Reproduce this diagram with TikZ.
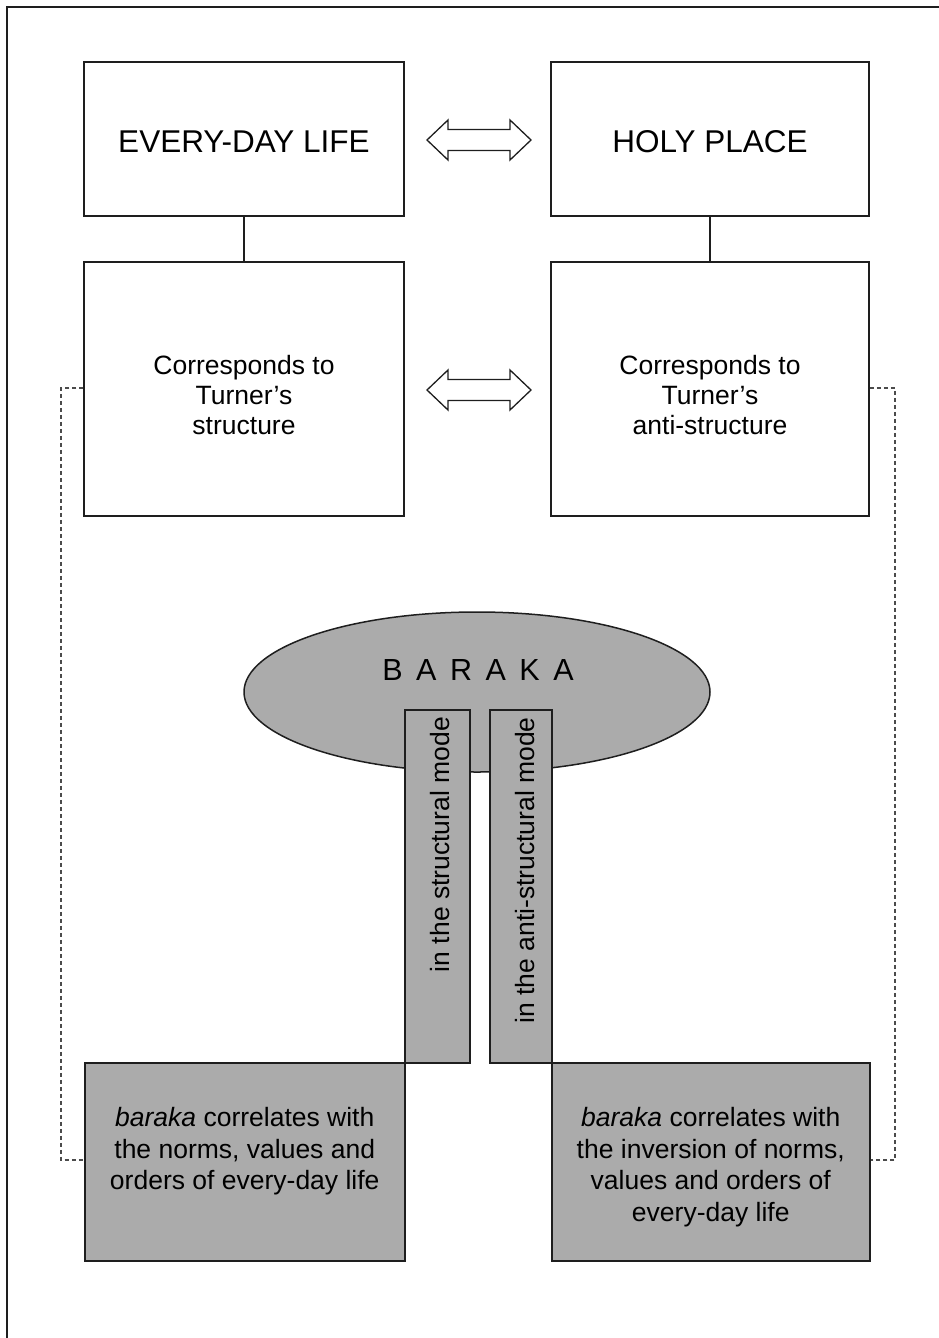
\documentclass[tikz,border=0pt]{standalone}
\usepackage{fontspec}
\setmainfont{Liberation Sans}
\usetikzlibrary{shapes.geometric}
\definecolor{boxgray}{HTML}{ABABAB}
\definecolor{ink}{HTML}{1E1E1E}
\tikzset{
  x=1pt,y=-1pt,
  plainbox/.style={draw=ink,line width=1.5pt,fill=white,inner sep=0pt},
  graybox/.style={draw=ink,line width=1.5pt,fill=boxgray,inner sep=0pt},
  bodytext/.style={font=\fontsize{26.5}{31.5}\selectfont,align=center,text=black},
  midtext/.style={font=\fontsize{26.5}{30}\selectfont,align=center,text=black},
  bigtext/.style={font=\fontsize{31.5}{36}\selectfont,text=black},
  link/.style={draw=ink,line width=1.5pt},
  dotlink/.style={draw=ink!80,line width=1.2pt,dash pattern=on 4pt off 3pt},
  dblarrow/.style={draw=ink,line width=1.3pt,fill=white,line join=miter},
}
\newcommand{\dblarr}[2]{%
  \path[dblarrow] (#1,#2)
   -- ++(21,-20) -- ++(0,9.5) -- ++(62,0) -- ++(0,-9.5)
   -- ++(21,20) -- ++(-21,20) -- ++(0,-9.5) -- ++(-62,0) -- ++(0,9.5) -- cycle;}
\begin{document}
\begin{tikzpicture}
\useasboundingbox (0,0) rectangle (939,1338);
% frame
\draw[draw=ink,line width=2pt] (7,1345) -- (7,7) -- (945,7);

% top boxes
\node[plainbox,minimum width=320pt,minimum height=154pt] (edl) at (244,139) {};
\node[bigtext] at ([yshift=-3pt]edl.center) {EVERY-DAY LIFE};
\node[plainbox,minimum width=318pt,minimum height=154pt] (hp) at (710,139) {};
\node[bigtext] at ([yshift=-3pt]hp.center) {HOLY PLACE};

% corresponds boxes
\node[plainbox,minimum width=320pt,minimum height=254pt] (cs) at (244,389) {};
\node[midtext] at ([yshift=-6pt]cs.center) {Corresponds to\\Turner’s\\structure};
\node[plainbox,minimum width=318pt,minimum height=254pt] (ca) at (710,389) {};
\node[midtext] at ([yshift=-6pt]ca.center) {Corresponds to\\Turner’s\\anti-structure};

\draw[link] (edl.south) -- (cs.north);
\draw[link] (hp.south) -- (ca.north);

\dblarr{427}{140}
\dblarr{427}{390}

% dotted connectors
\coordinate (l1) at (61,388);
\coordinate (l2) at (61,1160);
\coordinate (r1) at (895,388);
\coordinate (r2) at (895,1160);

% baraka ellipse
\node[ellipse,draw=ink,line width=1.5pt,fill=boxgray,minimum width=466pt,minimum height=160pt,inner sep=0pt] (bk) at (477,692) {};
\node[bigtext,font=\fontsize{30.5}{36}\selectfont] at (478,670) {B\hspace{13.5pt}A\hspace{13.5pt}R\hspace{13.5pt}A\hspace{13.5pt}K\hspace{13.5pt}A};

% vertical bars
\node[graybox,minimum width=65pt,minimum height=353pt,anchor=north west] (sb) at (404,709) {};
\node[graybox,minimum width=62pt,minimum height=353pt,anchor=north west] (ab) at (489,709) {};
\node[bodytext,rotate=90,anchor=east,inner sep=0pt] at ([xshift=3pt,yshift=-8pt]sb.north) {in the structural mode};
\node[bodytext,rotate=90,anchor=east,inner sep=0pt] at ([xshift=4pt,yshift=-8pt]ab.north) {in the anti-structural mode};

% bottom boxes
\node[graybox,minimum width=320pt,minimum height=198pt,anchor=north west] (bl) at (84,1062) {};
\node[bodytext,anchor=north] at ([yshift=-42pt]bl.north) {\textit{baraka} correlates with\\the norms, values and\\orders of every-day life};
\node[graybox,minimum width=318pt,minimum height=198pt,anchor=north west] (br) at (551,1062) {};
\node[bodytext,anchor=north] at ([yshift=-42pt]br.north) {\textit{baraka} correlates with\\the inversion of norms,\\values and orders of\\every-day life};

\draw[dotlink] (cs.west |- l1) -- (l1) -- (l2) -- (bl.west |- l2);
\draw[dotlink] (ca.east |- r1) -- (r1) -- (r2) -- (br.east |- r2);
\end{tikzpicture}
\end{document}
